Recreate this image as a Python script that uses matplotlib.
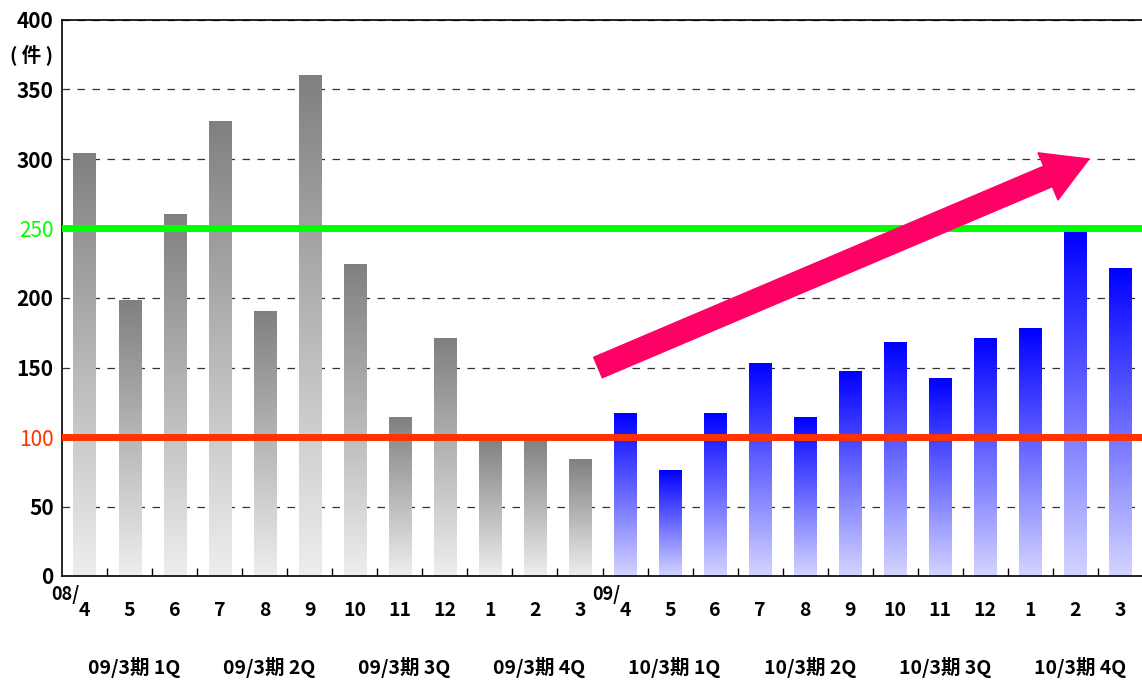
import matplotlib
matplotlib.use("Agg")
import numpy as np
import matplotlib.pyplot as plt
from matplotlib.colors import LinearSegmentedColormap
from matplotlib.transforms import blended_transform_factory

plt.rcParams['font.family'] = ['Noto Sans CJK JP', 'DejaVu Sans']

# monthly counts (件), 08/4 .. 10/3
months = ["4", "5", "6", "7", "8", "9", "10", "11", "12", "1", "2", "3",
          "4", "5", "6", "7", "8", "9", "10", "11", "12", "1", "2", "3"]
counts = [304, 198, 260, 327, 190, 360, 224, 114, 171, 99, 99, 84,
          117, 76, 117, 153, 114, 147, 168, 142, 171, 178, 248, 221]
year_marks = {0: "08/", 12: "09/"}
quarters = ["09/3期 1Q", "09/3期 2Q", "09/3期 3Q", "09/3期 4Q",
            "10/3期 1Q", "10/3期 2Q", "10/3期 3Q", "10/3期 4Q"]
target_hi, target_lo = 250, 100
arrow_from = (11.4, 150)
arrow_to = (22.3, 300)

gray_cm = LinearSegmentedColormap.from_list("g", ["#eeeeee", "#808080"])
blue_cm = LinearSegmentedColormap.from_list("b", ["#d4d4ff", "#0000ff"])

fig = plt.figure(figsize=(11.42, 6.82), dpi=100)
ax = fig.add_axes([62/1142, 1-576/682, 1081/1142, 556/682])

x = np.arange(len(counts))
w = 0.49
grad = np.linspace(0, 1, 256).reshape(-1, 1)
for i, v in zip(x, counts):
    cm = gray_cm if i < 12 else blue_cm
    ax.imshow(grad, extent=[i - w/2, i + w/2, 0, v], origin="lower",
              aspect="auto", cmap=cm, zorder=2)

ax.set_xlim(-0.5, len(counts) - 0.5)
ax.set_ylim(0, 400)
ax.set_yticks(np.arange(0, 401, 50))
ax.yaxis.grid(True, linestyle=(0, (6, 6)), color="#333333", linewidth=0.9, zorder=1)
ax.set_axisbelow(True)

ax.axhline(target_hi, color="#00ff00", linewidth=5, zorder=3)
ax.axhline(target_lo, color="#ff3300", linewidth=5, zorder=3)

ax.annotate("", xy=arrow_to, xytext=arrow_from,
            arrowprops=dict(arrowstyle="simple,head_width=2.3,head_length=2.0,tail_width=1.0",
                            color="#ff0066", mutation_scale=16, shrinkA=0, shrinkB=0),
            zorder=4)

for s in ["left", "bottom", "top"]:
    ax.spines[s].set_linewidth(1.2)
ax.spines["right"].set_visible(False)

# y ticks
ax.tick_params(axis="y", length=0, pad=6, labelsize=15)
for lab in ax.get_yticklabels():
    lab.set_fontweight("bold")
ylabs = ax.get_yticklabels()
ylabs[5].set_color("#00ff00"); ylabs[5].set_fontweight("normal")
ylabs[2].set_color("#ff3300"); ylabs[2].set_fontweight("normal")
ax.text(31/1142, 375, "( 件 )", transform=blended_transform_factory(fig.transFigure, ax.transData),
        ha="center", va="center", fontsize=14, fontweight="bold")

# x ticks: labels at bars, small ticks between bars
ax.set_xticks(x)
ax.set_xticklabels(months, fontsize=14, fontweight="bold")
ax.tick_params(axis="x", which="major", length=0, pad=18)
ax.set_xticks(x[:-1] + 0.5, minor=True)
ax.tick_params(axis="x", which="minor", direction="in", length=6, width=1,
               bottom=True, top=False)

tr = blended_transform_factory(ax.transData, fig.transFigure)
for i, t in year_marks.items():
    ax.text(i - 0.42, 1 - 594/682, t, transform=tr, ha="center", va="center",
            fontsize=13, fontweight="bold")
for q, t in enumerate(quarters):
    ax.text(q * 3 + 1.1, 1 - 668/682, t, transform=tr, ha="center", va="center",
            fontsize=14, fontweight="bold")

fig.savefig("out.png", dpi=100)
